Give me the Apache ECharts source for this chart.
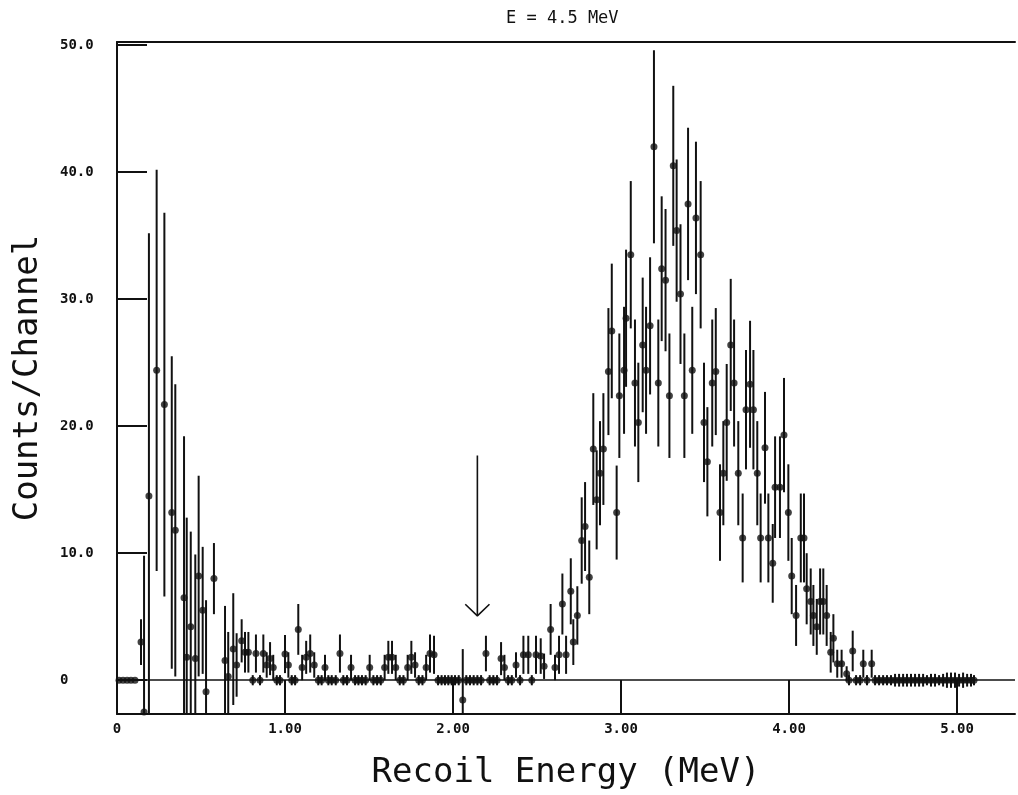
<!DOCTYPE html>
<html><head><meta charset="utf-8">
<script src="https://cdn.jsdelivr.net/npm/echarts@6/dist/echarts.min.js"></script>
<style>html,body{margin:0;padding:0;background:#fff}#c{width:1018px;height:795px}</style>
</head><body><div id="c"></div>
<script>
// ---- data (Recoil energy in MeV, counts/channel, error) ----
const spikeEnergy = [0.012,0.036,0.060,0.083,0.107,0.143,0.161,0.190,0.236,0.282,0.326,0.347,0.399,0.415,0.439,0.466,0.486,0.510,0.530,0.577];
const spikeCounts = [0,0,0,0,0,3.0,-2.5,14.5,24.4,21.7,13.2,11.8,6.5,1.8,4.2,1.7,8.2,5.5,-0.9,8.0];
const spikeErrors = [0,0,0,0,0,1.8,12.3,20.7,15.8,15.1,12.3,11.5,12.7,11.0,7.5,8.2,7.9,5.0,7.2,2.8];

const baseEnergy = [0.643,0.662,0.692,0.712,0.742,0.762,0.782,0.808,0.827,0.851,
  0.871,0.891,0.911,0.930,0.951,0.970,1.000,1.020,1.040,1.060,
  1.079,1.102,1.126,1.150,1.174,1.198,1.218,1.238,1.258,1.278,
  1.302,1.327,1.347,1.369,1.393,1.417,1.437,1.458,1.480,1.504,
  1.526,1.548,1.570,1.593,1.615,1.637,1.659,1.683,1.705,1.730,
  1.752,1.774,1.796,1.818,1.840,1.863,1.887,1.911,1.932,1.952,
  1.972,1.992,2.012,2.034,2.058,2.079,2.101,2.123,2.145,2.167,
  2.196,2.218,2.240,2.262,2.286,2.306,2.328,2.350,2.375,2.399,
  2.419,2.448,2.469,2.494,2.522,2.542];
const baseCounts = [1.55,0.3,2.45,1.2,3.1,2.2,2.2,0,2.1,0,
  2.1,1.2,1.7,1.0,0,0,2.06,1.2,0,0,
  4.0,1.0,1.8,2.1,1.2,0,0,1.0,0,0,
  0,2.1,0,0,1.0,0,0,0,0,1.0,
  0,0,0,1.0,1.8,1.8,1.0,0,0,1.0,
  1.8,1.2,0,0,1.0,2.1,2.0,0,0,0,
  0,0,0,0,-1.55,0,0,0,0,0,
  2.1,0,0,0,1.7,1.0,0,0,1.2,0,
  2.0,2.0,0,2.0,1.9,1.1];
const baseErrors = [4.3,3.5,4.4,2.5,1.7,1.6,1.6,0.4,1.5,0.4,
  1.5,1.0,1.3,1.0,0.4,0.4,1.5,1.0,0.4,0.4,
  2.0,1.0,1.3,1.5,1.0,0.4,0.4,1.0,0.4,0.4,
  0.4,1.5,0.4,0.4,1.0,0.4,0.4,0.4,0.4,1.0,
  0.4,0.4,0.4,1.0,1.3,1.3,1.0,0.4,0.4,1.0,
  1.3,1.0,0.4,0.4,1.0,1.5,1.5,0.4,0.4,0.4,
  0.4,0.4,0.4,0.4,4.0,0.4,0.4,0.4,0.4,0.4,
  1.4,0.4,0.4,0.4,1.3,1.0,0.4,0.4,1.0,0.4,
  1.5,1.5,0.4,1.5,1.4,1.0];

const peakEnergy = [2.581,2.607,2.631,2.651,2.673,2.701,2.716,2.740,2.766,2.786,
  2.811,2.835,2.855,2.875,2.895,2.925,2.945,2.974,2.990,3.018,
  3.030,3.058,3.083,3.103,3.129,3.149,3.173,3.196,3.222,3.242,
  3.265,3.288,3.311,3.331,3.354,3.377,3.399,3.424,3.446,3.474,
  3.494,3.514,3.543,3.564,3.589,3.609,3.629,3.653,3.673,3.698,
  3.724,3.744,3.768,3.788,3.811,3.831,3.857,3.877,3.903,3.917,
  3.946,3.970,3.996,4.016,4.042,4.070,4.089,4.105,4.129,4.145,
  4.165,4.185,4.204,4.224,4.248,4.264,4.287,4.313,4.343];
const peakCounts = [4.0,1.0,2.0,6.0,2.0,7.0,3.0,5.1,11.0,12.1,
  8.1,18.2,14.2,16.3,18.2,24.3,27.5,13.2,22.4,24.4,
  28.5,33.5,23.4,20.3,26.4,24.4,27.9,42.0,23.4,32.4,
  31.5,22.4,40.5,35.4,30.4,22.4,37.5,24.4,36.4,33.5,
  20.3,17.2,23.4,24.3,13.2,16.3,20.3,26.4,23.4,16.3,
  11.2,21.3,23.3,21.3,16.3,11.2,18.3,11.2,9.2,15.2,
  15.2,19.3,13.2,8.2,5.1,11.2,11.2,7.2,6.2,5.1,
  4.2,6.2,6.2,5.1,2.2,3.3,1.3,1.3,0.5];
const peakErrors = [2.0,1.0,1.5,2.4,1.5,2.6,1.8,2.3,3.4,3.5,
  2.9,4.4,3.9,4.1,4.4,5.0,5.3,3.7,4.9,5.0,
  5.4,5.8,5.0,4.7,5.3,5.0,5.4,7.6,5.0,5.7,
  5.6,4.9,6.3,5.6,5.5,4.9,6.0,5.0,6.0,5.8,
  4.7,4.3,5.0,5.0,3.8,4.1,4.6,5.2,5.0,4.1,
  3.5,4.7,5.0,4.7,4.1,3.5,4.4,3.5,3.1,4.0,
  4.0,4.5,3.8,3.0,2.4,3.5,3.5,2.8,2.6,2.4,
  2.2,2.6,2.6,2.4,1.6,1.9,1.1,1.1,0.6];

const tailEnergy = [4.357,4.379,4.399,4.423,4.442,4.464,4.492,4.512,4.536,4.560,
  4.583,4.607,4.631,4.655,4.679,4.702,4.726,4.750,4.774,4.798,
  4.821,4.845,4.869,4.893,4.917,4.940,4.964,4.988,5.012,5.036,
  5.060,5.083,5.101];
const tailCounts = [0,2.3,0,0,1.3,0,1.3,0,0,0,
  0,0,0,0,0,0,0,0,0,0,
  0,0,0,0,0,0,0,0,0,0,
  0,0,0];
const tailErrors = [0.4,1.6,0.4,0.4,1.1,0.4,1.1,0.4,0.4,0.4,
  0.4,0.4,0.5,0.5,0.5,0.5,0.5,0.5,0.5,0.5,
  0.4,0.5,0.5,0.4,0.5,0.6,0.6,0.6,0.5,0.6,
  0.5,0.5,0.4];

const xTicks = [0, 1, 2, 3, 4, 5];
const yTicks = [0, 10, 20, 30, 40, 50];
const arrowShaft = [[2.145, 17.7], [2.145, 5.07]];
const arrowHead = [[2.073, 5.98], [2.145, 5.07], [2.217, 5.98]];

// ---- build ----
const X_MIN = 0, X_MAX = 5.345, Y_MIN = -2.66, Y_MAX = 50.25;
const points = [];
function addSeg(E, C, R) { for (let i = 0; i < E.length; i++) points.push([E[i], C[i], R[i]]); }
addSeg(spikeEnergy, spikeCounts, spikeErrors);
addSeg(baseEnergy, baseCounts, baseErrors);
addSeg(peakEnergy, peakCounts, peakErrors);
addSeg(tailEnergy, tailCounts, tailErrors);

const INK = '#111';
const chart = echarts.init(document.getElementById('c'), null, { renderer: 'canvas' });
const axisFont = { fontFamily: 'DejaVu Sans Mono', fontWeight: 'bold', fontSize: 14, color: INK };
chart.setOption({
  animation: false,
  backgroundColor: '#fff',
  title: {
    text: 'E = 4.5 MeV', left: 501, top: 5,
    textStyle: { fontFamily: 'DejaVu Sans Mono', fontWeight: 'normal', fontSize: 17, color: INK }
  },
  grid: { left: 117, right: 3, top: 42, bottom: 78 },
  xAxis: [{
    type: 'value', min: X_MIN, max: X_MAX, position: 'bottom',
    axisLine: { show: true, onZero: false, lineStyle: { color: INK, width: 2 } },
    axisTick: { show: true, inside: true, length: 34, customValues: xTicks, lineStyle: { color: INK, width: 2 } },
    axisLabel: { customValues: xTicks, margin: 8, formatter: v => v === 0 ? '0' : v.toFixed(2), ...axisFont },
    splitLine: { show: false },
    name: 'Recoil Energy (MeV)', nameLocation: 'middle', nameGap: 42,
    nameTextStyle: { fontFamily: 'DejaVu Sans Mono', fontSize: 34, color: INK }
  }, {
    type: 'value', min: X_MIN, max: X_MAX, position: 'top',
    axisLine: { show: true, onZero: false, lineStyle: { color: INK, width: 2 } },
    axisTick: { show: false }, axisLabel: { show: false }, splitLine: { show: false }
  }],
  yAxis: {
    type: 'value', min: Y_MIN, max: Y_MAX,
    axisLine: { show: true, onZero: false, lineStyle: { color: INK, width: 2 } },
    axisTick: { show: true, inside: true, length: 30, customValues: yTicks, lineStyle: { color: INK, width: 2 } },
    axisLabel: { customValues: yTicks, align: 'left', margin: 57, formatter: v => v === 0 ? '0' : v.toFixed(1), ...axisFont },
    splitLine: { show: false },
    name: 'Counts/Channel', nameLocation: 'middle', nameGap: 72, nameRotate: 90,
    nameTextStyle: { fontFamily: 'DejaVu Sans Mono', fontSize: 34, color: INK }
  },
  series: [
    {
      type: 'custom', name: 'errors', data: points, clip: true, silent: true,
      encode: { x: 0, y: 1 },
      renderItem: function (params, api) {
        const x = api.value(0), y = api.value(1), e = api.value(2);
        if (!e) return null;
        const hi = Math.min(y + e, Y_MAX), lo = Math.max(y - e, Y_MIN);
        const p1 = api.coord([x, hi]), p2 = api.coord([x, lo]);
        return { type: 'line', shape: { x1: p1[0], y1: p1[1], x2: p2[0], y2: p2[1] },
                 style: { stroke: INK, lineWidth: 2 } };
      }
    },
    {
      type: 'scatter', name: 'counts', data: points.map(p => [p[0], p[1]]),
      symbol: 'circle', symbolSize: 7, itemStyle: { color: INK }, clip: true, silent: true,
      markLine: {
        silent: true, symbol: 'none', label: { show: false },
        lineStyle: { color: INK, width: 1.5, type: 'solid' },
        data: [{ yAxis: 0 }]
      }
    },
    { type: 'line', data: arrowShaft, showSymbol: false, symbol: 'none', silent: true,
      lineStyle: { color: INK, width: 1.6 } },
    { type: 'line', data: arrowHead, showSymbol: false, symbol: 'none', silent: true,
      lineStyle: { color: INK, width: 1.6 } }
  ]
});
</script>
</body></html>
